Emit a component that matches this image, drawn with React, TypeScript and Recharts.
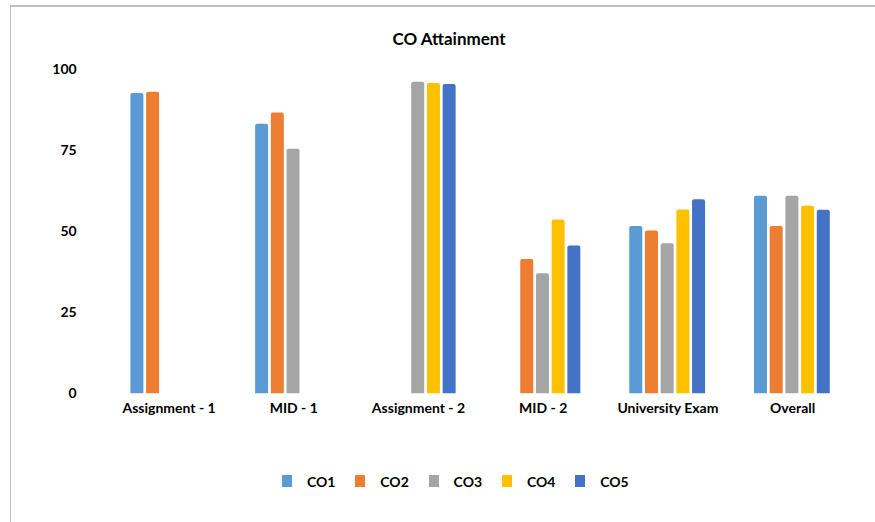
import React from "react";
import { BarChart, Bar, XAxis, YAxis } from "recharts";

const categories = ["Assignment - 1", "MID - 1", "Assignment - 2", "MID - 2", "University Exam", "Overall"];
const co1 = [92.6, 83.1, null, null, 51.6, 60.9];
const co2 = [93.0, 86.6, null, 41.4, 50.2, 51.6];
const co3 = [null, 75.4, 96.1, 37.0, 46.3, 60.9];
const co4 = [null, null, 95.7, 53.6, 56.7, 57.8];
const co5 = [null, null, 95.4, 45.6, 59.8, 56.6];
const seriesNames = ["CO1", "CO2", "CO3", "CO4", "CO5"];
const seriesColors = ["#5B9BD5", "#ED7D31", "#A5A5A5", "#FFC000", "#4472C4"];
const yTicks = [0, 25, 50, 75, 100];

const seriesValues = [co1, co2, co3, co4, co5];
const data = categories.map((c, i) => {
  const row: any = { name: c };
  seriesNames.forEach((s, j) => {
    row[s] = seriesValues[j][i];
  });
  return row;
});

const FONT = "Lato, 'Open Sans', sans-serif";

export default function App() {
  return (
    <div style={{ position: "absolute", left: 0, top: 0, width: 875, height: 522, background: "#fff" }}>
      <div
        style={{
          position: "absolute",
          left: 10,
          top: 5,
          width: 865,
          height: 517,
          borderTop: "2px solid #BFBFBF",
          borderLeft: "1px solid #BFBFBF",
          boxSizing: "border-box",
        }}
      />
      <div
        style={{
          position: "absolute",
          left: 0,
          top: 28,
          width: 898,
          textAlign: "center",
          fontFamily: FONT,
          fontWeight: 700,
          fontSize: 17,
          color: "#000",
        }}
      >
        CO Attainment
      </div>
      <div style={{ position: "absolute", left: 0, top: 0 }}>
        <BarChart
          width={875}
          height={522}
          data={data}
          margin={{ top: 69, right: 20, bottom: 98.7, left: 46.7 }}
          barCategoryGap={23.7}
          barGap={2.7}
        >
          <XAxis
            dataKey="name"
            axisLine={false}
            tickLine={false}
            tickSize={0}
            tickMargin={10}
            height={30}
            interval={0}
            tick={{ fontFamily: FONT, fontWeight: 700, fontSize: 14, fill: "#000" }}
          />
          <YAxis
            domain={[0, 100]}
            ticks={yTicks}
            axisLine={false}
            tickLine={false}
            tickSize={0}
            tickMargin={30}
            width={60}
            tick={{ fontFamily: FONT, fontWeight: 700, fontSize: 14, fill: "#000" }}
          />
          {seriesNames.map((s, j) => (
            <Bar
              key={s}
              dataKey={s}
              fill={seriesColors[j]}
              radius={[2, 2, 0, 0]}
              isAnimationActive={false}
            />
          ))}
        </BarChart>
      </div>
      <div style={{ position: "absolute", left: 282, top: 472, width: 400, height: 20 }}>
        {seriesNames.map((s, i) => (
          <div
            key={s}
            style={{ position: "absolute", left: i * 73.3, top: 0, display: "flex", alignItems: "center", height: 18 }}
          >
            <div style={{ width: 10, height: 12, background: seriesColors[i] }} />
            <span
              style={{
                marginLeft: 15,
                fontFamily: FONT,
                fontWeight: 700,
                fontSize: 14,
                color: "#000",
              }}
            >
              {s}
            </span>
          </div>
        ))}
      </div>
    </div>
  );
}
